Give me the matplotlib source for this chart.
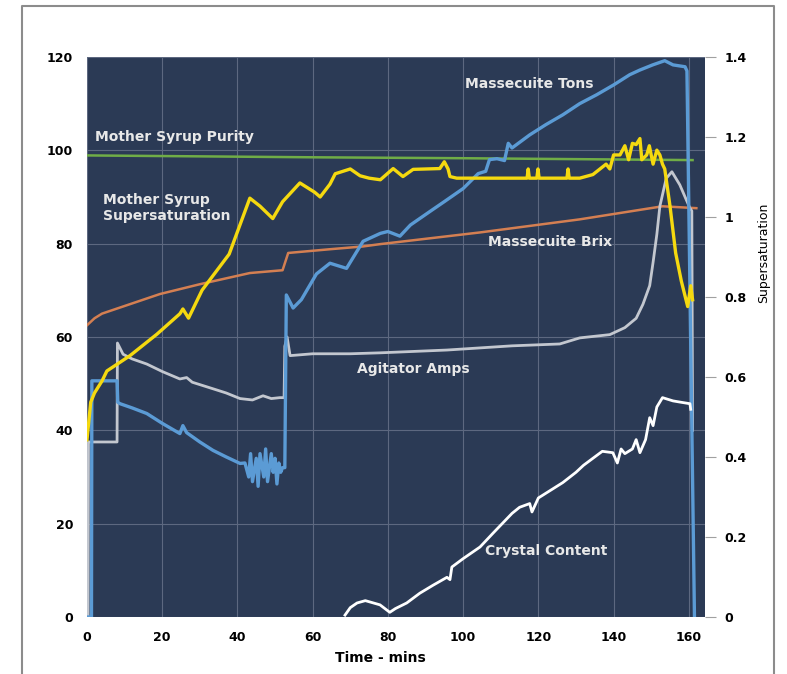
import matplotlib.pyplot as plt
from matplotlib.lines import Line2D

# Massecuite Tons (left axis)
t_tons = [0, 1.2, 1.3, 8, 8.2, 8.8, 12, 15.9, 20, 24.7, 25.5, 26.5, 30, 33.5, 37, 40.7, 42, 43, 43.5, 44, 45,
          45.5, 46, 47, 47.5, 48, 49, 49.5, 50, 50.5, 51, 51.5, 52, 52.6, 53, 54.8, 57, 61, 64.6, 69, 73.4, 78,
          80, 83.2, 86, 91.2, 95, 100, 104, 106, 107, 109, 111, 112, 113, 117.7, 122, 126.5, 131, 135.5, 140,
          144.3, 147, 150.4, 153.6, 155.8, 159, 159.5, 161.5]
tons = [0, 0, 50.6, 50.6, 46, 45.7, 44.8, 43.6, 41.5, 39.3, 41, 39.5, 37.5, 35.7, 34.3, 32.9, 33, 30, 35, 29, 34,
        28, 35, 30, 36, 29, 35, 31, 34, 28.5, 33, 31, 32, 32, 69, 66.2, 68, 73.5, 75.8, 74.7, 80.5, 82.2,
        82.6, 81.6, 84, 86.9, 89, 91.8, 95, 95.5, 98, 98.2, 97.8, 101.5, 100.5, 103.3, 105.5, 107.6, 110, 111.9, 114,
        116.2, 117.2, 118.3, 119.2, 118.3, 117.9, 117, 0]

# Agitator Amps (left axis)
t_amps = [0, 0.3, 0.4, 8, 8.1, 9.6, 12, 15.9, 20, 24.7, 26.5, 28, 33.5, 37, 40.7, 44, 46.8, 49, 51.3, 52.4,
          52.6, 53.2, 54, 60, 70, 77.9, 95.7, 113, 125.7, 131, 139, 143, 146, 147.8, 149.6, 150.5, 151.5,
          152.3, 154, 155.5, 157.6, 159, 160.3, 160.8, 161]
amps = [0, 0, 37.5, 37.5, 58.7, 56.3, 55.3, 54.2, 52.6, 51, 51.3, 50.3, 48.9, 48, 46.8, 46.5, 47.4, 46.8, 47, 47,
        58, 60, 56, 56.4, 56.4, 56.6, 57.2, 58.1, 58.5, 59.8, 60.5, 62, 64, 67, 71, 76, 82, 88, 94, 95.4, 92.6,
        90, 87.6, 87, 40]

# Crystal Content (left axis)
t_cryst = [68.6, 70, 71.8, 74, 77.9, 80.5, 82, 85, 88.5, 92, 95.7, 96.5, 97, 100, 104.5, 108, 113, 115, 117.7,
           118.3, 120, 126.5, 130, 132, 135.5, 137, 139.8, 141, 142, 143, 145, 146, 147, 148.5, 149.6, 150.5,
           151.5, 153, 155.8, 158, 160.3, 160.5]
cryst = [0.4, 2, 3, 3.5, 2.6, 1, 1.8, 3, 5.1, 6.8, 8.5, 8, 10.7, 12.5, 15, 18, 22.2, 23.5, 24.3, 22.5, 25.5,
         28.8, 31, 32.5, 34.6, 35.5, 35.2, 33, 36, 35, 36, 38, 35.2, 38, 42.7, 41, 45, 47, 46.3, 46, 45.7, 44.5]

# Massecuite Brix (left axis)
t_brix = [0, 2, 4, 19.4, 30, 43.3, 52, 53.5, 64.6, 73.4, 78, 104.5, 131, 153, 162]
brix = [62.5, 64, 65, 69.2, 71.3, 73.7, 74.3, 78, 78.8, 79.4, 79.9, 82.4, 85.2, 88, 87.6]

# Mother Syrup Purity (left axis)
t_purity = [0, 60, 100, 161]
purity = [98.9, 98.5, 98.3, 97.9]

# Mother Syrup Supersaturation (right axis)
t_ss = [0, 0.5, 1, 2, 4, 5.3, 11.4, 18.6, 24.7, 25.5, 27, 30.6, 37.8, 43.3, 46, 49.4, 52, 56.6, 60.5, 62, 64.6,
        66, 70, 72.6, 75, 78, 81.4, 84, 86.7, 93.8, 95, 96, 96.5, 98.3, 109, 117, 117.3, 117.6, 119.6, 119.9,
        120.2, 127.6, 127.9, 128.2, 131, 134.5, 138, 139, 140, 141.7, 143, 144, 145, 146, 147, 147.5, 148.8,
        149.5, 150.5, 151.5, 152.3, 153, 153.6, 155, 156.5, 158, 159.7, 160.5, 161]
ss = [0.443, 0.490, 0.537, 0.560, 0.590, 0.615, 0.653, 0.707, 0.758, 0.770, 0.747, 0.817, 0.907, 1.047, 1.027,
      0.996, 1.038, 1.085, 1.062, 1.050, 1.082, 1.108, 1.120, 1.103, 1.097, 1.093, 1.121, 1.101, 1.119, 1.121,
      1.138, 1.120, 1.101, 1.097, 1.097, 1.097, 1.120, 1.097, 1.097, 1.120, 1.097, 1.097, 1.120, 1.097, 1.097,
      1.106, 1.132, 1.120, 1.155, 1.155, 1.178, 1.143, 1.184, 1.181, 1.196, 1.143, 1.155, 1.178, 1.132, 1.167,
      1.155, 1.132, 1.120, 1.027, 0.910, 0.840, 0.776, 0.828, 0.793]

left_ticks = [0, 20, 40, 60, 80, 100, 120]
right_ticks = [0, 0.2, 0.4, 0.6, 0.8, 1.0, 1.2, 1.4]
right_labels = ['0', '0.2', '0.4', '0.6', '0.8', '1', '1.2', '1.4']
x_ticks = [0, 20, 40, 60, 80, 100, 120, 140, 160]

bg = '#2b3a55'
fig = plt.figure(figsize=(7.87, 6.74), dpi=100)
ax = fig.add_axes([0.1105, 0.0846, 0.7853, 0.8309])
ax.set_facecolor(bg)
ax.set_xlim(0, 164.3)
ax.set_ylim(0, 120)
ax.grid(True, color='#5d6880', lw=0.8)
ax.set_axisbelow(True)
for s in ax.spines.values():
    s.set_visible(False)

ax.plot(t_purity, purity, color='#70ad47', lw=1.8)
ax.plot(t_brix, brix, color='#d47f52', lw=1.8)
ax.plot(t_amps, amps, color='#c3c7cf', lw=2)
ax.plot(t_tons, tons, color='#5b9bd5', lw=2.4)
ax.plot(t_cryst, cryst, color='#ffffff', lw=2)

ax.set_xticks(x_ticks)
ax.set_yticks(left_ticks)
ax.tick_params(length=0, labelsize=9, pad=10)
for lab in ax.get_xticklabels() + ax.get_yticklabels():
    lab.set_fontweight('bold')
ax.set_xlabel('Time - mins', fontsize=10, fontweight='bold', labelpad=0)
ax.xaxis.set_label_coords(0.474, -0.06)

ax2 = ax.twinx()
ax2.set_ylim(0, 1.4)
ax2.plot(t_ss, ss, color='#f5d90f', lw=2.4)
ax2.set_yticks(right_ticks)
ax2.set_yticklabels(right_labels)
for s in ax2.spines.values():
    s.set_visible(False)
ax2.tick_params(axis='y', length=8, color='#a0a0a0', labelsize=9, pad=6)
for lab in ax2.get_yticklabels():
    lab.set_fontweight('bold')
ax2.set_ylabel('Supersaturation', fontsize=9)
ax2.yaxis.set_label_coords(1.085, 0.65)

tc = '#e8e8e8'
ax.text(2.1, 102.8, 'Mother Syrup Purity', color=tc, fontsize=10, fontweight='bold', va='center')
ax.text(4.3, 87.6, 'Mother Syrup\nSupersaturation', color=tc, fontsize=10, fontweight='bold', va='center')
ax.text(100.5, 114.3, 'Massecuite Tons', color=tc, fontsize=10, fontweight='bold', va='center')
ax.text(106.6, 80.3, 'Massecuite Brix', color=tc, fontsize=10, fontweight='bold', va='center')
ax.text(71.8, 53.2, 'Agitator Amps', color=tc, fontsize=10, fontweight='bold', va='center')
ax.text(105.8, 14.1, 'Crystal Content', color=tc, fontsize=10, fontweight='bold', va='center')

# outer frame (bottom edge is cut off)
W, H = 787, 674
fx = [22 / W, 22 / W, 774 / W, 774 / W]
fy = [0, 1 - 6 / H, 1 - 6 / H, 0]
fig.add_artist(Line2D(fx, fy, color='#8c8c8c', lw=1.5, transform=fig.transFigure))

fig.savefig('out.png', dpi=100)
